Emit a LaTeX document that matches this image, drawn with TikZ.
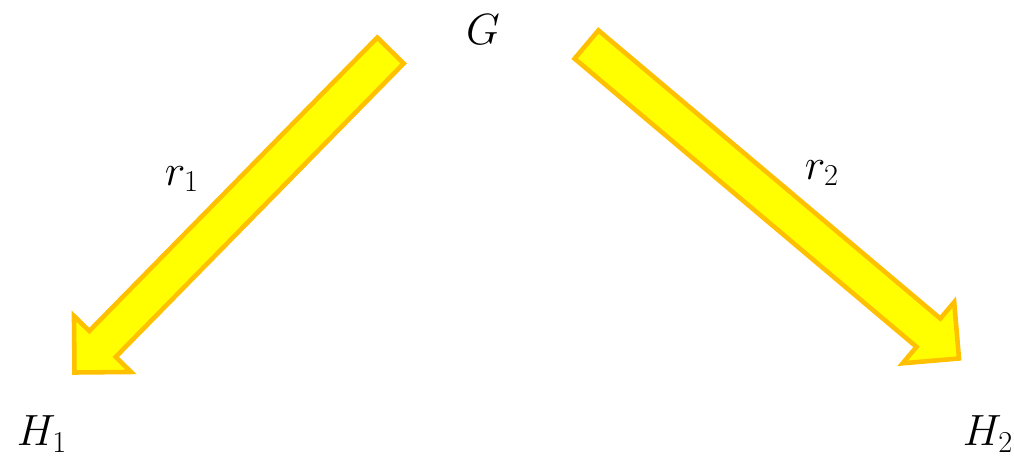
\documentclass[tikz,border=0pt]{standalone}
\usepackage{amsmath}
\usepackage{tikz}
\usetikzlibrary{calc,positioning}

\definecolor{arrowfill}{RGB}{255,255,0}
\definecolor{arrowline}{RGB}{255,192,0}

\tikzset{
  blockarrow/.style={fill=arrowfill, draw=arrowline, line width=2.6pt, line join=miter},
  lbl/.style={inner sep=0pt, font=\fontsize{24}{29}\selectfont}
}

% wide yellow arrow from tail #1 to tip #2
\newcommand{\blockarrow}[2]{%
  \path ($(#2)!0.8cm!(#1)$) coordinate (hb);
  \draw[blockarrow] ($(#1)!0.37cm!90:(#2)$) -- ($(hb)!0.37cm!-90:(#1)$)
    -- ($(hb)!0.8cm!-90:(#1)$) -- (#2) -- ($(hb)!0.8cm!90:(#1)$)
    -- ($(hb)!0.37cm!90:(#1)$) -- ($(#1)!0.37cm!-90:(#2)$) -- cycle;
}

\begin{document}
\begin{tikzpicture}
    \useasboundingbox (0,0) rectangle (20.28,9.32);

    % Labels
    \node[lbl] (G) at (9.66,8.72) {$G$};
    \node[lbl] (H1) at (0.84,0.64) {$H_1$};
    \node[lbl] (H2) at (19.76,0.64) {$H_2$};
    \node[lbl] (r1) at (3.64,5.74) {$r_1$};
    \node[lbl] (r2) at (16.44,5.86) {$r_2$};

    % Arrow ends
    \coordinate (tailL) at (7.81,8.31);
    \coordinate (tipL) at (1.49,1.87);
    \coordinate (tailR) at (11.73,8.43);
    \coordinate (tipR) at (19.18,2.15);

    % Arrows
    \blockarrow{tailL}{tipL}
    \blockarrow{tailR}{tipR}
\end{tikzpicture}
\end{document}
